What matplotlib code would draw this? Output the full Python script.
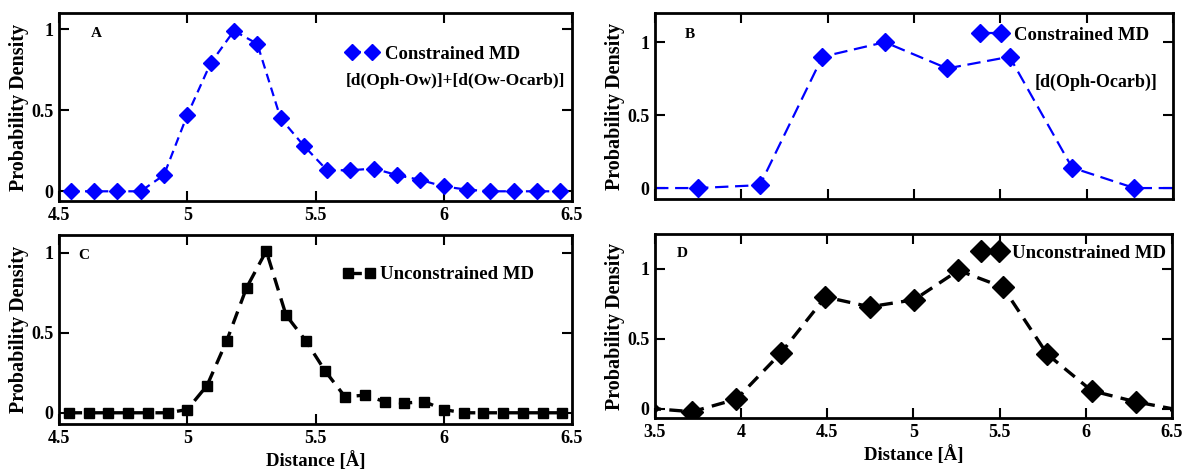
import matplotlib
matplotlib.use('Agg')
import matplotlib.pyplot as plt
from matplotlib.ticker import FuncFormatter

plt.rcParams['font.family'] = ['Liberation Serif', 'DejaVu Serif']
plt.rcParams['font.weight'] = 'bold'

# Panel A: constrained MD, d(Oph-Ow)+d(Ow-Ocarb)
a_dist = [4.545, 4.636, 4.727, 4.818, 4.909, 5.0, 5.091, 5.182, 5.273, 5.364, 5.455,
          5.545, 5.636, 5.727, 5.818, 5.909, 6.0, 6.091, 6.182, 6.273, 6.364, 6.455]
a_dens = [0, 0, 0, 0, 0.10, 0.47, 0.79, 0.99, 0.91, 0.45, 0.28,
          0.13, 0.13, 0.14, 0.10, 0.07, 0.03, 0.01, 0, 0, 0, 0]

# Panel B: constrained MD, d(Oph-Ocarb)
b_dist = [3.385, 3.747, 4.108, 4.470, 4.831, 5.193, 5.554, 5.916, 6.277, 6.639]
b_dens = [0, 0, 0.02, 0.90, 1.0, 0.82, 0.90, 0.14, 0, 0]

# Panel C: unconstrained MD
c_dist = [4.538, 4.615, 4.692, 4.769, 4.846, 4.923, 5.0, 5.077, 5.154, 5.231, 5.308,
          5.385, 5.462, 5.538, 5.615, 5.692, 5.769, 5.846, 5.923, 6.0, 6.077, 6.154,
          6.231, 6.308, 6.385, 6.462]
c_dens = [0, 0, 0, 0, 0, 0, 0.02, 0.17, 0.45, 0.78, 1.01,
          0.61, 0.45, 0.26, 0.10, 0.11, 0.07, 0.06, 0.07, 0.02, 0, 0,
          0, 0, 0, 0]

# Panel D: unconstrained MD
d_dist = [3.458, 3.716, 3.973, 4.231, 4.489, 4.746, 5.004, 5.261, 5.519, 5.777, 6.034, 6.292, 6.55]
d_dens = [0.005, -0.02, 0.07, 0.40, 0.80, 0.73, 0.78, 0.99, 0.87, 0.39, 0.13, 0.05, -0.01]

fig = plt.figure(figsize=(11.85, 4.71), dpi=100)
axA = fig.add_axes([0.0498, 0.5732, 0.4329, 0.3992])
axB = fig.add_axes([0.5527, 0.5775, 0.4371, 0.3949])
axC = fig.add_axes([0.0498, 0.0998, 0.4329, 0.4013])
axD = fig.add_axes([0.5527, 0.1125, 0.4363, 0.3907])

fmt = FuncFormatter(lambda v, p: ('%g' % v))
leg_font = {'size': 13.5, 'weight': 'bold'}


def style(ax, xlim, ylim, xticks, show_xlabels):
    ax.set_xlim(*xlim)
    ax.set_ylim(*ylim)
    ax.set_xticks(xticks)
    ax.set_yticks([0, 0.5, 1])
    ax.xaxis.set_major_formatter(fmt)
    ax.yaxis.set_major_formatter(fmt)
    ax.tick_params(direction='in', top=True, right=True, length=7, width=1.5,
                   labelsize=13, pad=4)
    if not show_xlabels:
        ax.tick_params(labelbottom=False)
    for s in ax.spines.values():
        s.set_linewidth(2)
    ax.set_ylabel('Probability Density', fontsize=14.5, fontweight='bold')
    ax.yaxis.set_label_coords(-0.058, 0.5)


axA.plot(a_dist, a_dens, color='#0000ff', lw=1.6, dashes=(4, 2.5), marker='D',
         markersize=8.5, label='Constrained MD')
style(axA, (4.5, 6.5), (-0.06, 1.1), [4.5, 5, 5.5, 6, 6.5], True)
axA.text(0.073, 0.89, 'A', transform=axA.transAxes, fontsize=11, va='center', ha='center')
axA.legend(loc='center left', bbox_to_anchor=(0.56, 0.78), frameon=False, numpoints=2,
           handlelength=1.67, handletextpad=0.4, borderpad=0, borderaxespad=0,
           prop=leg_font)
axA.text(0.773, 0.64, '[d(Oph-Ow)]+[d(Ow-Ocarb)]', transform=axA.transAxes, fontsize=12.5,
         ha='center', va='center')

axB.plot(b_dist, b_dens, color='#0000ff', lw=1.6, dashes=(6, 3), marker='D',
         markersize=9, label='Constrained MD')
style(axB, (3.5, 6.5), (-0.075, 1.2), [3.5, 4, 4.5, 5, 5.5, 6, 6.5], False)
axB.text(0.068, 0.884, 'B', transform=axB.transAxes, fontsize=11, va='center', ha='center')
axB.legend(loc='center left', bbox_to_anchor=(0.617, 0.882), frameon=False, numpoints=2,
           handlelength=1.72, handletextpad=0.4, borderpad=0, borderaxespad=0,
           prop=leg_font)
axB.text(0.852, 0.627, '[d(Oph-Ocarb)]', transform=axB.transAxes, fontsize=13,
         ha='center', va='center')

axC.plot(c_dist, c_dens, color='black', lw=2.4, dashes=(4, 2.5), marker='s',
         markersize=6.5, label='Unconstrained MD')
style(axC, (4.5, 6.5), (-0.07, 1.11), [4.5, 5, 5.5, 6, 6.5], True)
axC.set_xlabel('Distance [Å]', fontsize=13.5, fontweight='bold', labelpad=3)
axC.text(0.048, 0.889, 'C', transform=axC.transAxes, fontsize=11, va='center', ha='center')
axC.legend(loc='center left', bbox_to_anchor=(0.553, 0.789), frameon=False, numpoints=2,
           handlelength=1.77, handletextpad=0.23, borderpad=0, borderaxespad=0,
           prop=leg_font)

axD.plot(d_dist, d_dens, color='black', lw=2.4, dashes=(4, 2.5), marker='D',
         markersize=11, label='Unconstrained MD')
style(axD, (3.5, 6.5), (-0.065, 1.25), [3.5, 4, 4.5, 5, 5.5, 6, 6.5], True)
axD.set_xlabel('Distance [Å]', fontsize=13.5, fontweight='bold', labelpad=3)
axD.text(0.052, 0.895, 'D', transform=axD.transAxes, fontsize=11, va='center', ha='center')
axD.legend(loc='center left', bbox_to_anchor=(0.619, 0.895), frameon=False, numpoints=2,
           handlelength=1.6, handletextpad=0.4, borderpad=0, borderaxespad=0,
           prop=leg_font)

fig.savefig('out.png', dpi=100)
